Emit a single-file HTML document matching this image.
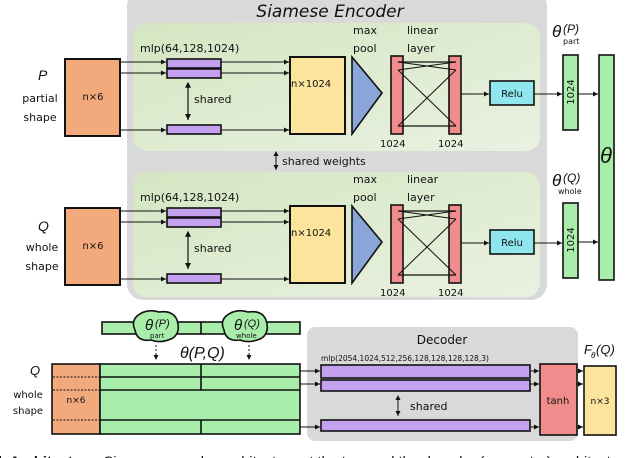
<!DOCTYPE html>
<html><head><meta charset="utf-8"><style>
body{margin:0;background:#fff;width:640px;height:458px;overflow:hidden}
svg{display:block}
text{font-family:"Liberation Sans",sans-serif;fill:#111}
.h{font-family:"Comic Sans MS","DejaVu Sans",sans-serif}
</style></head><body>
<svg width="640" height="458" viewBox="0 0 640 458">
<defs>
<marker id="a" markerWidth="6" markerHeight="6" refX="5" refY="3" orient="auto"><path d="M0,0.5 L5,3 L0,5.5z" fill="#111"/></marker>
<marker id="b" markerWidth="6" markerHeight="6" refX="1" refY="3" orient="auto"><path d="M5,0.5 L0,3 L5,5.5z" fill="#111"/></marker>
<linearGradient id="g" x1="0" y1="0" x2="1" y2="1"><stop offset="0" stop-color="#d4e6c2"/><stop offset="1" stop-color="#e9f1e1"/></linearGradient>
</defs>
<rect x="127" y="-10" width="420" height="310" rx="16" fill="#d9d9d9"/>
<text x="330" y="17" class="h" font-size="17" text-anchor="middle" font-style="italic">Siamese Encoder</text>
<rect x="133" y="23" width="407" height="128" rx="14" fill="url(#g)"/>
<rect x="133" y="172" width="407" height="125" rx="14" fill="url(#g)"/>
<g id="row" stroke="#111" stroke-width="1.6">
<rect x="65" y="59" width="55" height="77" fill="#f2a97c" stroke-width="2"/>
<text x="93" y="100" class="h" font-size="10" text-anchor="middle" stroke="none">n×6</text>
<text x="140" y="52" class="h" font-size="11" stroke="none">mlp(64,128,1024)</text>
<rect x="167" y="59" width="54" height="9" fill="#c4a1ef"/>
<rect x="167" y="69" width="54" height="9" fill="#c4a1ef"/>
<rect x="167" y="125" width="54" height="9" fill="#c4a1ef"/>
<line x1="120" y1="62" x2="166" y2="62" marker-end="url(#a)" stroke-width="1"/>
<line x1="120" y1="73" x2="166" y2="73" marker-end="url(#a)" stroke-width="1"/>
<line x1="120" y1="130" x2="166" y2="130" marker-end="url(#a)" stroke-width="1"/>
<line x1="221" y1="62" x2="289" y2="62" marker-end="url(#a)" stroke-width="1"/>
<line x1="221" y1="73" x2="289" y2="73" marker-end="url(#a)" stroke-width="1"/>
<line x1="221" y1="130" x2="289" y2="130" marker-end="url(#a)" stroke-width="1"/>
<line x1="188" y1="83" x2="188" y2="120" marker-end="url(#a)" marker-start="url(#b)" stroke-width="1.2"/>
<text x="194" y="103" class="h" font-size="11" stroke="none">shared</text>
<rect x="290" y="57" width="55" height="77" fill="#fde49c" stroke-width="2"/>
<text x="291" y="87" class="h" font-size="10" stroke="none">n×1024</text>
<polygon points="352,57 382,93 352,134" fill="#8aa6d9"/>
<text x="353" y="34" class="h" font-size="11" stroke="none">max</text>
<text x="353" y="52" class="h" font-size="11" stroke="none">pool</text>
<text x="407" y="34" class="h" font-size="11" stroke="none">linear</text>
<text x="407" y="52" class="h" font-size="11" stroke="none">layer</text>
<rect x="391" y="56" width="12" height="78" fill="#f08c8c"/>
<rect x="449" y="56" width="12" height="78" fill="#f08c8c"/>
<line x1="398" y1="62" x2="456" y2="62" stroke-width="1.2"/>
<line x1="398" y1="70" x2="456" y2="62" stroke-width="1"/>
<line x1="398" y1="62" x2="456" y2="70" stroke-width="1"/>
<line x1="398" y1="70" x2="456" y2="126" stroke-width="1"/>
<line x1="398" y1="126" x2="456" y2="70" stroke-width="1"/>
<line x1="398" y1="126" x2="456" y2="126" stroke-width="1.2"/>
<text x="380" y="147" class="h" font-size="10" stroke="none">1024</text>
<text x="438" y="147" class="h" font-size="10" stroke="none">1024</text>
<line x1="461" y1="94" x2="489" y2="94" marker-end="url(#a)" stroke-width="1"/>
<rect x="490" y="81" width="44" height="24" fill="#8fe6ec"/>
<text x="512" y="97" class="h" font-size="10" text-anchor="middle" stroke="none">Relu</text>
<line x1="534" y1="94" x2="562" y2="94" marker-end="url(#a)" stroke-width="1"/>
</g>
<use href="#row" y="149"/>
<text x="38" y="80" font-family="Liberation Serif" font-style="italic" font-size="14">P</text>
<text x="40" y="102" class="h" font-size="11" text-anchor="middle">partial</text>
<text x="40" y="121" class="h" font-size="11" text-anchor="middle">shape</text>
<text x="38" y="231" font-family="Liberation Serif" font-style="italic" font-size="14">Q</text>
<text x="42" y="251" class="h" font-size="11" text-anchor="middle">whole</text>
<text x="42" y="270" class="h" font-size="11" text-anchor="middle">shape</text>
<line x1="276" y1="152" x2="276" y2="170" stroke="#111" marker-end="url(#a)" marker-start="url(#b)"/>
<text x="282" y="165" class="h" font-size="11">shared weights</text>
<g stroke="#111" stroke-width="1.6">
<rect x="563" y="55" width="15" height="75" fill="#a8eeaa"/>
<rect x="563" y="203" width="15" height="75" fill="#a8eeaa"/>
<rect x="599" y="55" width="15" height="225" fill="#a8eeaa"/>
<line x1="578" y1="94" x2="598" y2="94" stroke-width="1" marker-end="url(#a)"/>
<line x1="578" y1="242" x2="598" y2="242" stroke-width="1" marker-end="url(#a)"/>
</g>
<text transform="translate(574,92) rotate(-90)" class="h" font-size="10" text-anchor="middle">1024</text>
<text transform="translate(574,240) rotate(-90)" class="h" font-size="10" text-anchor="middle">1024</text>
<text x="606" y="163" font-family="Liberation Serif" font-style="italic" font-size="22" text-anchor="middle">θ</text>
<text x="552" y="37" font-family="Liberation Serif" font-style="italic" font-size="17">θ</text><text x="563" y="33" font-family="Liberation Serif" font-style="italic" font-size="12">(P)</text><text x="563" y="44" class="h" font-size="8">part</text>
<text x="552" y="186" font-family="Liberation Serif" font-style="italic" font-size="17">θ</text><text x="563" y="182" font-family="Liberation Serif" font-style="italic" font-size="12">(Q)</text><text x="558" y="194" class="h" font-size="8">whole</text>
<rect x="307" y="327" width="271" height="114" rx="8" fill="#d9d9d9"/>
<text x="442" y="344" class="h" font-size="12" text-anchor="middle">Decoder</text>
<text x="321" y="361" class="h" font-size="7.5">mlp(2054,1024,512,256,128,128,128,128,3)</text>
<g stroke="#111" stroke-width="1.6">
<rect x="102" y="322" width="198" height="12" fill="#a8eeaa"/>
<line x1="201" y1="322" x2="201" y2="334"/>
<path d="M137,316 q10,-8 22,-4 q14,-2 18,8 q4,12 -4,18 q-12,6 -22,2 q-14,2 -16,-10 q-4,-8 2,-14z" fill="#a8eeaa"/>
<path d="M226,316 q10,-8 22,-4 q14,-2 18,8 q4,12 -4,18 q-12,6 -22,2 q-14,2 -16,-10 q-4,-8 2,-14z" fill="#a8eeaa"/>
<line x1="156" y1="345" x2="156" y2="360" stroke-width="1" stroke-dasharray="2,2" marker-end="url(#a)"/>
<line x1="249" y1="345" x2="249" y2="360" stroke-width="1" stroke-dasharray="2,2" marker-end="url(#a)"/>
<rect x="52" y="364" width="48" height="70" fill="#f2a97c"/>
<rect x="100" y="364" width="200" height="70" fill="#a8eeaa"/>
<line x1="100" y1="377" x2="300" y2="377"/><line x1="100" y1="390" x2="300" y2="390"/><line x1="100" y1="420" x2="300" y2="420"/>
<line x1="201" y1="364" x2="201" y2="390"/><line x1="201" y1="420" x2="201" y2="434"/>
<line x1="53" y1="377" x2="99" y2="377" stroke-dasharray="2,1.5" stroke-width="1"/>
<line x1="53" y1="390" x2="99" y2="390" stroke-dasharray="2,1.5" stroke-width="1"/>
<line x1="53" y1="420" x2="99" y2="420" stroke-dasharray="2,1.5" stroke-width="1"/>
<rect x="321" y="365" width="209" height="13" fill="#c4a1ef"/>
<rect x="321" y="380" width="209" height="11" fill="#c4a1ef"/>
<rect x="321" y="420" width="209" height="11" fill="#c4a1ef"/>
<g stroke-width="1">
<line x1="300" y1="371" x2="320" y2="371" marker-end="url(#a)"/>
<line x1="300" y1="384" x2="320" y2="384" marker-end="url(#a)"/>
<line x1="300" y1="427" x2="320" y2="427" marker-end="url(#a)"/>
<line x1="530" y1="371" x2="539" y2="371" marker-end="url(#a)"/>
<line x1="530" y1="384" x2="539" y2="384" marker-end="url(#a)"/>
<line x1="530" y1="427" x2="539" y2="427" marker-end="url(#a)"/>
<line x1="577" y1="371" x2="583" y2="371" marker-end="url(#a)"/>
<line x1="577" y1="384" x2="583" y2="384" marker-end="url(#a)"/>
<line x1="577" y1="427" x2="583" y2="427" marker-end="url(#a)"/>
<line x1="398" y1="396" x2="398" y2="416" marker-end="url(#a)" marker-start="url(#b)"/>
</g>
<rect x="540" y="364" width="37" height="71" fill="#f08c8c"/>
<rect x="584" y="366" width="32" height="69" fill="#fde49c"/>
</g>
<text x="76" y="403" class="h" font-size="9" text-anchor="middle">n×6</text>
<text x="145" y="330" font-family="Liberation Serif" font-style="italic" font-size="15">θ</text><text x="155" y="327" font-family="Liberation Serif" font-style="italic" font-size="11">(P)</text><text x="150" y="338" class="h" font-size="7">part</text>
<text x="234" y="330" font-family="Liberation Serif" font-style="italic" font-size="15">θ</text><text x="244" y="327" font-family="Liberation Serif" font-style="italic" font-size="11">(Q)</text><text x="236" y="338" class="h" font-size="7">whole</text>
<text x="180" y="358" font-family="Liberation Serif" font-style="italic" font-size="16">θ(P,Q)</text>
<text x="30" y="375" font-family="Liberation Serif" font-style="italic" font-size="13">Q</text>
<text x="28" y="398" class="h" font-size="10" text-anchor="middle">whole</text>
<text x="28" y="414" class="h" font-size="10" text-anchor="middle">shape</text>
<text x="410" y="410" class="h" font-size="11">shared</text>
<text x="558" y="404" class="h" font-size="10" text-anchor="middle">tanh</text>
<text x="600" y="404" class="h" font-size="9" text-anchor="middle">n×3</text>
<text x="584" y="354" font-family="Liberation Serif" font-style="italic" font-size="13">F</text><text x="591" y="358" font-family="Liberation Serif" font-style="italic" font-size="8">θ</text><text x="596" y="354" font-family="Liberation Serif" font-style="italic" font-size="13">(Q)</text>
<text x="-2" y="466" font-family="Liberation Serif" font-size="14" textLength="650" lengthAdjust="spacingAndGlyphs"><tspan font-weight="bold">k Architecture.</tspan>  Siamese encoder architecture at the top, and the decoder (generator) architecture at</text>
</svg>
</body></html>
